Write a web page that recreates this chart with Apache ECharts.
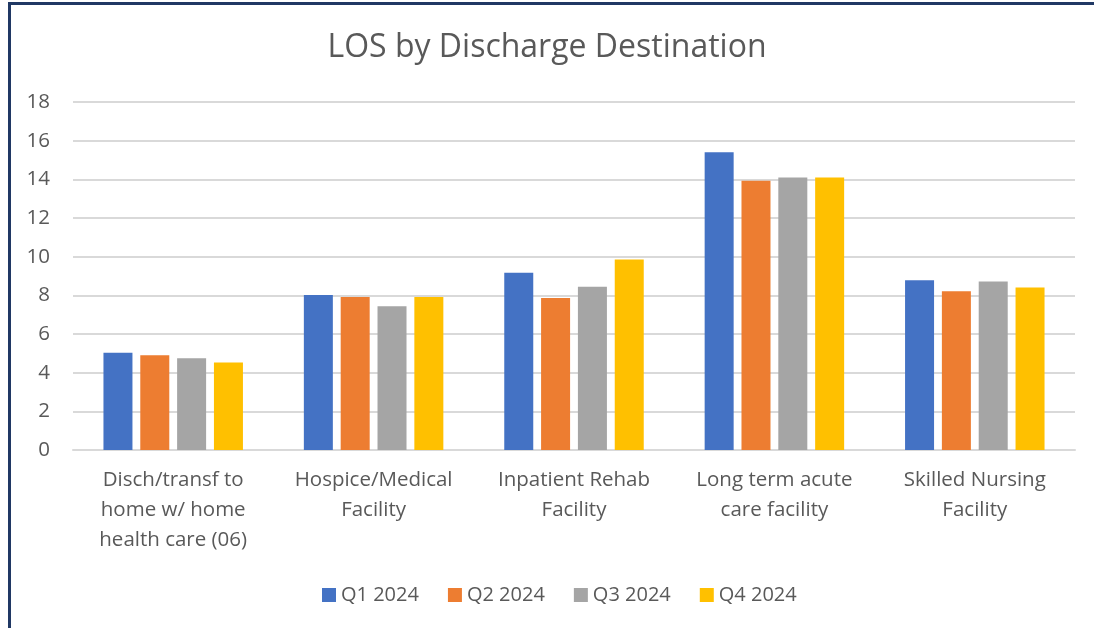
<!DOCTYPE html>
<html>
<head>
<meta charset="utf-8">
<script src="https://cdn.jsdelivr.net/npm/echarts@6/dist/echarts.min.js"></script>
<style>
  html, body { margin: 0; padding: 0; background: #fff; overflow: hidden; }
  #chart { width: 1094px; height: 628px; }
  .frame {
    position: absolute; left: 8px; top: 2px; width: 2000px; height: 2000px;
    border-left: 3px solid #203864; border-top: 3px solid #203864;
    pointer-events: none;
  }
</style>
</head>
<body>
<div id="chart"></div>
<div class="frame"></div>
<script>
const categories = [
  'Disch/transf to\nhome w/ home\nhealth care (06)',
  'Hospice/Medical\nFacility',
  'Inpatient Rehab\nFacility',
  'Long term acute\ncare facility',
  'Skilled Nursing\nFacility'
];
const seriesNames = ['Q1 2024', 'Q2 2024', 'Q3 2024', 'Q4 2024'];
const q1 = [5.03, 8.02, 9.17, 15.40, 8.78];
const q2 = [4.90, 7.91, 7.86, 13.93, 8.21];
const q3 = [4.74, 7.43, 8.45, 14.10, 8.72];
const q4 = [4.53, 7.91, 9.85, 14.09, 8.40];
const colors = ['#4472C4', '#ED7D31', '#A5A5A5', '#FFC000'];

const font = '"Open Sans", sans-serif';
const textColor = '#595959';

const myChart = echarts.init(document.getElementById('chart'));

const option = {
  animation: false,
  color: colors,
  title: {
    text: 'LOS by Discharge Destination',
    left: 'center',
    top: 27,
    textStyle: { fontFamily: font, fontSize: 32, fontWeight: 'normal', color: textColor }
  },
  legend: {
    data: seriesNames,
    top: 580,
    left: 317,
    icon: 'rect',
    itemWidth: 14,
    itemHeight: 14,
    itemGap: 29,
    textStyle: { fontFamily: font, fontSize: 20, color: textColor }
  },
  grid: { left: 73, right: 19, top: 102, bottom: 178, outerBoundsMode: 'none' },
  xAxis: {
    type: 'category',
    data: categories,
    axisLine: { lineStyle: { color: '#D9D9D9', width: 2 } },
    axisTick: { show: false },
    axisLabel: {
      fontFamily: font, fontSize: 20.5, color: textColor,
      lineHeight: 30, margin: 15, interval: 0
    }
  },
  yAxis: {
    type: 'value',
    min: 0,
    max: 18,
    interval: 2,
    axisLine: { show: false },
    axisTick: { show: false },
    splitLine: { lineStyle: { color: '#D9D9D9', width: 2 } },
    axisLabel: { fontFamily: font, fontSize: 20.5, color: textColor, margin: 23 }
  },
  series: [q1, q2, q3, q4].map((d, i) => ({
    name: seriesNames[i],
    type: 'bar',
    data: d,
    barWidth: 29,
    barGap: '27%',
    itemStyle: { color: colors[i] }
  }))
};

myChart.setOption(option);
</script>
</body>
</html>
